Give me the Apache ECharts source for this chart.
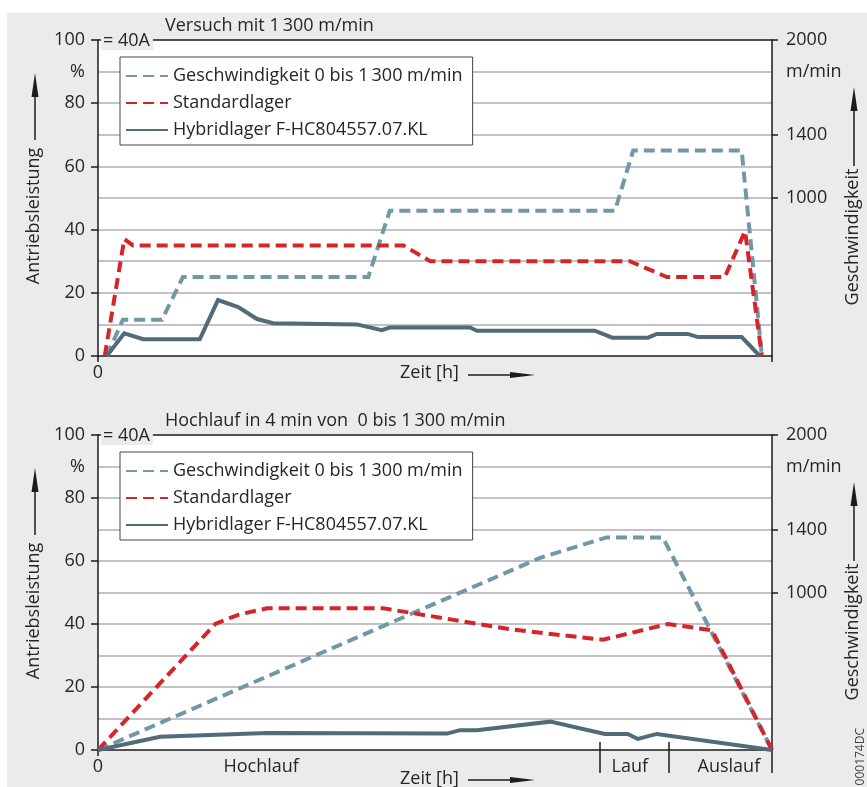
<!DOCTYPE html>
<html><head><meta charset="utf-8">
<script src="https://cdn.jsdelivr.net/npm/echarts@6/dist/echarts.min.js"></script>
<style>
html,body{margin:0;padding:0;background:#fff;}
#bg{position:absolute;left:7px;top:13px;right:0;bottom:0;background:#ebebed;}
#chart{position:absolute;left:0;top:0;width:867px;height:787px;}
</style></head><body>
<div id="bg"></div><div id="chart"></div>
<script>
// ---- data ----
const seriesNames = ['Geschwindigkeit 0 bis 1\u2009300 m/min', 'Standardlager', 'Hybridlager F-HC804557.07.KL'];
// Panel 1 (Versuch mit 1300 m/min); x = relative time 0..100
const p1SpeedX = [1.3, 3.7, 9.5, 12.6, 40.1, 43.3, 76.7, 79.4, 95.5, 98.5];
const p1SpeedY = [0, 230, 230, 500, 500, 920, 920, 1300, 1300, 0];           // m/min
const p1StdX = [1.0, 3.9, 5.2, 45.3, 49.3, 78.9, 84.4, 93.0, 96.0, 98.5];
const p1StdY = [0, 37, 35, 35, 30, 30, 25, 25, 39.5, 0];                       // %
const p1HybX = [1.3, 3.9, 6.7, 15.1, 17.8, 20.8, 23.6, 26.0, 38.4, 42.1, 43.3, 55.2, 56.2, 73.7, 76.3, 81.6, 82.9, 87.5, 89.0, 95.5, 98.2];
const p1HybY = [0, 7.2, 5.3, 5.3, 17.7, 15.5, 11.7, 10.4, 10, 8.2, 9, 9, 8, 8, 5.8, 5.8, 7, 7, 6, 6, 0];
// Panel 2 (Hochlauf in 4 min)
const p2SpeedX = [0, 65.6, 75.5, 83.8, 100];
const p2SpeedY = [0, 1220, 1350, 1350, 0];
const p2StdX = [0, 17.4, 20.9, 25.1, 42.3, 61.6, 74.9, 84.6, 91.1, 100];
const p2StdY = [0, 40, 43, 45, 45, 38.2, 35, 40, 38, 0];
const p2HybX = [0, 9.2, 25.1, 51.8, 53.7, 56.2, 67.1, 75.2, 78.6, 80.1, 82.9, 100];
const p2HybY = [0, 4.2, 5.4, 5.2, 6.3, 6.3, 9, 5.1, 5.1, 3.5, 5.1, 0];
// tick labels
const leftTickLabels = [0, 20, 40, 60, 80, 100];
const leftUnitValue = 90, leftUnitLabel = '%';
const rightTickValues = [1000, 1400, 2000];
const rightUnitValue = 1800, rightUnitLabel = 'm/min';
const phaseLabelX = [0, 24.2, 78.9, 93.6];
const phaseLabels = ['0', 'Hochlauf', 'Lauf', 'Auslauf'];
const phaseBounds = [74.5, 84.7, 100];

// ---- styles ----
const FONT = 'Open Sans';
const TXT = '#262626';
const AX = '#1c1c1c';
const GRID = '#c3c3c7';
const C_SPEED = '#7297a6', C_STD = '#d5252b', C_HYB = '#526b78';
const zip = (xs, ys) => xs.map((x, i) => [x, ys[i]]);

const chart = echarts.init(document.getElementById('chart'), null, {renderer: 'canvas'});

function xAxesFor(g, labelVals, labelTxt, tickVals, tickLen) {
  return [
    {gridIndex: g, type: 'value', min: 0, max: 100, position: 'bottom',
     axisLine: {onZero: false, lineStyle: {color: AX, width: 1.5}},
     axisTick: {customValues: tickVals, length: tickLen, lineStyle: {color: AX, width: 1.5}},
     axisLabel: {customValues: labelVals, formatter: v => { const i = labelVals.findIndex(a => Math.abs(a - v) < 1e-6); return i >= 0 ? labelTxt[i] : ''; }, fontSize: 18, fontFamily: FONT, color: TXT, margin: 8},
     splitLine: {show: false}},
    {gridIndex: g, type: 'value', min: 0, max: 100, position: 'top',
     axisLine: {onZero: false, lineStyle: {color: AX, width: 1.5}}, axisTick: {show: false}, axisLabel: {show: false}, splitLine: {show: false}}
  ];
}
function yAxesFor(g) {
  return [
    {gridIndex: g, type: 'value', min: 0, max: 100, interval: 20, position: 'left',
     axisLine: {show: true, onZero: false, lineStyle: {color: AX, width: 1.5}},
     axisTick: {show: true, length: 7, lineStyle: {color: AX, width: 1.5}},
     axisLabel: {fontSize: 18, fontFamily: FONT, color: TXT, margin: 13,
                 formatter: v => leftTickLabels.includes(v) ? String(v) : ''},
     splitLine: {show: false}},
    {gridIndex: g, type: 'value', min: 0, max: 100, interval: 10, position: 'left',
     axisLine: {show: false, onZero: false}, axisTick: {show: false},
     axisLabel: {fontSize: 18, fontFamily: FONT, color: TXT, margin: 13, formatter: v => v === leftUnitValue ? leftUnitLabel : ''},
     splitLine: {show: true, showMinLine: false, showMaxLine: false, lineStyle: {color: GRID, width: 2}}},
    {gridIndex: g, type: 'value', min: 0, max: 2000, position: 'right',
     axisLine: {show: true, onZero: false, lineStyle: {color: AX, width: 1.5}},
     axisTick: {show: true, customValues: rightTickValues, length: 6, lineStyle: {color: AX, width: 1.5}},
     axisLabel: {customValues: rightTickValues.concat([rightUnitValue]), fontSize: 18, fontFamily: FONT, color: TXT, margin: 14,
                 formatter: v => v === rightUnitValue ? rightUnitLabel : String(v)},
     splitLine: {show: false}}
  ];
}

const xAxis = [
  ...xAxesFor(0, [0], ['0'], [0, 100], 6),
  ...xAxesFor(1, phaseLabelX, phaseLabels, phaseBounds, 23),
  {gridIndex: 1, type: 'value', min: 0, max: 100, position: 'bottom', axisLine: {show: false, onZero: false},
   axisTick: {show: true, inside: true, customValues: phaseBounds.slice(0, 2), length: 8, lineStyle: {color: AX, width: 1.5}},
   axisLabel: {show: false}, splitLine: {show: false}},
  {gridIndex: 1, type: 'value', min: 0, max: 100, position: 'bottom', axisLine: {show: false, onZero: false},
   axisTick: {show: true, customValues: [0], length: 6, lineStyle: {color: AX, width: 1.5}},
   axisLabel: {show: false}, splitLine: {show: false}}
];
const yAxis = [...yAxesFor(0), ...yAxesFor(1)];

function lineSeries(name, data, xi, yi, color, dashed) {
  return {name, type: 'line', xAxisIndex: xi, yAxisIndex: yi, data, symbol: 'none', silent: true,
          lineStyle: {color, width: 4, type: dashed ? [11, 6] : 'solid', cap: 'butt', join: 'miter'},
          itemStyle: {color}};
}
const series = [
  lineSeries(seriesNames[0], zip(p1SpeedX, p1SpeedY), 0, 2, C_SPEED, true),
  lineSeries(seriesNames[1], zip(p1StdX, p1StdY), 0, 0, C_STD, true),
  lineSeries(seriesNames[2], zip(p1HybX, p1HybY), 0, 0, C_HYB, false),
  lineSeries(seriesNames[0], zip(p2SpeedX, p2SpeedY), 2, 5, C_SPEED, true),
  lineSeries(seriesNames[1], zip(p2StdX, p2StdY), 2, 3, C_STD, true),
  lineSeries(seriesNames[2], zip(p2HybX, p2HybY), 2, 3, C_HYB, false)
];

function legendAt(top) {
  return {show: true, data: seriesNames, orient: 'vertical', left: 120, top, selectedMode: false,
          backgroundColor: '#fff', borderColor: '#444', borderWidth: 1, padding: [10, 10, 6, 5],
          itemGap: 9, itemWidth: 42, itemHeight: 18,
          itemStyle: {opacity: 0},
          textStyle: {fontSize: 18, fontFamily: FONT, color: TXT, lineHeight: 18}};
}

function vArrow(x, yStart, yTip) {
  return [
    {type: 'line', shape: {x1: x, y1: yStart, x2: x, y2: yTip + 18}, style: {stroke: AX, lineWidth: 1.5}},
    {type: 'polygon', shape: {points: [[x - 3.5, yTip + 24], [x, yTip], [x + 3.5, yTip + 24]]}, style: {fill: AX}}
  ];
}
function hArrow(xStart, xTip, y) {
  return [
    {type: 'line', shape: {x1: xStart, y1: y, x2: xTip - 18, y2: y}, style: {stroke: AX, lineWidth: 1.5}},
    {type: 'polygon', shape: {points: [[xTip - 25, y - 3], [xTip, y], [xTip - 25, y + 3]]}, style: {fill: AX}}
  ];
}
function txt(text, x, y, opts) {
  return Object.assign({type: 'text', x, y, z: 50,
    style: Object.assign({text, fontSize: 18, fontFamily: FONT, fill: TXT, align: 'left', verticalAlign: 'middle'}, (opts && opts.style) || {})},
    opts && opts.rotation ? {rotation: opts.rotation} : {});
}

const graphic = [];
[0, 395].forEach((dy, k) => {
  graphic.push(txt(k === 0 ? 'Versuch mit 1\u2009300 m/min' : 'Hochlauf in 4 min von  0 bis 1\u2009300 m/min', 165, 26 + dy));
  graphic.push(txt('= 40A', 101, 41 + dy, {style: {backgroundColor: '#ebebed', padding: [0, 3, 0, 2]}}));
  graphic.push(txt('Antriebsleistung', 34, 216 + dy, {rotation: Math.PI / 2, style: {align: 'center'}}));
  graphic.push(...vArrow(35, 140 + dy, 73 + dy));
  graphic.push(txt('Geschwindigkeit', 853, 237 + dy, {rotation: Math.PI / 2, style: {align: 'center'}}));
  graphic.push(...vArrow(854, 166 + dy, 87 + dy));
});
graphic.push(txt('Zeit [h]', 400, 373));
graphic.push(...hArrow(468, 535, 375));
graphic.push(txt('Zeit [h]', 400, 779));
graphic.push(...hArrow(468, 535, 780));
graphic.push(txt('000174DC', 861, 728, {rotation: Math.PI / 2, style: {align: 'right', fontSize: 12, fill: '#444'}}));

chart.setOption({
  animation: false,
  textStyle: {fontFamily: FONT},
  grid: [
    {left: 98, top: 40, width: 674, height: 316, show: true, backgroundColor: '#fff', borderWidth: 0},
    {left: 98, top: 435, width: 674, height: 315, show: true, backgroundColor: '#fff', borderWidth: 0}
  ],
  legend: [legendAt(57), legendAt(452)],
  xAxis, yAxis, series, graphic
});
</script>
</body></html>
